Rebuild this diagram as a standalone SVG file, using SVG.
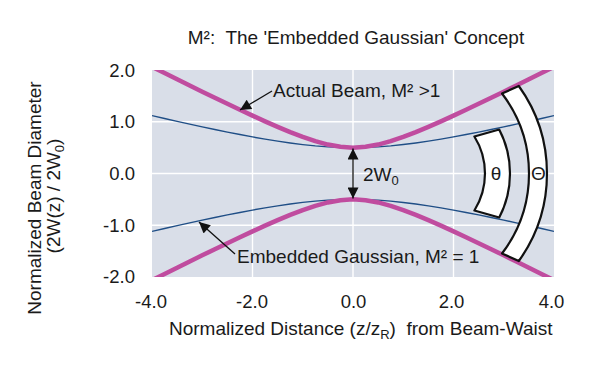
<svg xmlns="http://www.w3.org/2000/svg" width="609" height="371" viewBox="0 0 609 371">
  <style>
    text { font-family: "Liberation Sans", Arial, sans-serif; font-size: 19px; fill: #1a1a1a; white-space: pre; }
    .tick { font-size: 18.5px; }
    .grid { stroke: #ffffff; stroke-width: 1.4; fill: none; }
    .beam { stroke: #c04c9f; stroke-width: 4.5; fill: none; stroke-linejoin: round; }
    .gauss { stroke: #1f4e86; stroke-width: 1.4; fill: none; stroke-linejoin: round; }
    .band { fill: #ffffff; stroke: #111111; stroke-width: 2.2; stroke-linejoin: round; }
    .arrow { stroke: #111111; stroke-width: 1.3; fill: none; }
  </style>
  <defs>
    <clipPath id="plotClip">
      <rect x="152" y="70" width="402" height="207"/>
    </clipPath>
    <marker id="head" viewBox="0 0 10 10" refX="10" refY="5" markerUnits="userSpaceOnUse" markerWidth="13" markerHeight="11" orient="auto-start-reverse">
      <path d="M0,0 L10,5 L0,10 Z" fill="#111111"/>
    </marker>
  </defs>

  <rect width="609" height="371" fill="#ffffff"/>

  <g id="title">
    <text x="356" y="44" text-anchor="middle" xml:space="preserve">M²:  The 'Embedded Gaussian' Concept</text>
  </g>

  <g id="plot-area">
    <rect x="152" y="70" width="402" height="207" fill="#d9dee8"/>
    <g class="grid">
      <line x1="252.5" y1="70" x2="252.5" y2="277"/>
      <line x1="353" y1="70" x2="353" y2="277"/>
      <line x1="453.5" y1="70" x2="453.5" y2="277"/>
      <line x1="152" y1="121.75" x2="554" y2="121.75"/>
      <line x1="152" y1="173.5" x2="554" y2="173.5"/>
      <line x1="152" y1="225.25" x2="554" y2="225.25"/>
    </g>
  </g>

  <g id="curves" clip-path="url(#plotClip)">
    <path id="gauss-upper" class="gauss" d="M152,115.64 L164.56,118.52 177.13,121.35 189.69,124.13 202.25,126.85 214.81,129.51 227.38,132.08 239.94,134.55 252.5,136.91 265.06,139.12 277.63,141.16 290.19,142.99 302.75,144.57 315.31,145.87 327.88,146.83 340.44,147.42 353,147.63 365.56,147.42 378.13,146.83 390.69,145.87 403.25,144.57 415.81,142.99 428.38,141.16 440.94,139.12 453.5,136.91 466.06,134.55 478.63,132.08 491.19,129.51 503.75,126.85 516.31,124.13 528.88,121.35 541.44,118.52 554,115.64"/>
    <path id="gauss-lower" class="gauss" d="M152,231.36 L164.56,228.48 177.13,225.65 189.69,222.87 202.25,220.15 214.81,217.49 227.38,214.92 239.94,212.45 252.5,210.09 265.06,207.88 277.63,205.84 290.19,204.01 302.75,202.43 315.31,201.13 327.88,200.17 340.44,199.58 353,199.37 365.56,199.58 378.13,200.17 390.69,201.13 403.25,202.43 415.81,204.01 428.38,205.84 440.94,207.88 453.5,210.09 466.06,212.45 478.63,214.92 491.19,217.49 503.75,220.15 516.31,222.87 528.88,225.65 541.44,228.48 554,231.36"/>
    <path id="beam-upper" class="beam" d="M152,66.81 L164.56,73.08 177.13,79.31 189.69,85.51 202.25,91.68 214.81,97.79 227.38,103.83 239.94,109.79 252.5,115.64 265.06,121.35 277.63,126.85 290.19,132.08 302.75,136.91 315.31,141.16 327.88,144.57 340.44,146.83 353,147.63 365.56,146.83 378.13,144.57 390.69,141.16 403.25,136.91 415.81,132.08 428.38,126.85 440.94,121.35 453.5,115.64 466.06,109.79 478.63,103.83 491.19,97.79 503.75,91.68 516.31,85.51 528.88,79.31 541.44,73.08 554,66.81"/>
    <path id="beam-lower" class="beam" d="M152,280.19 L164.56,273.92 177.13,267.69 189.69,261.49 202.25,255.32 214.81,249.21 227.38,243.17 239.94,237.21 252.5,231.36 265.06,225.65 277.63,220.15 290.19,214.92 302.75,210.09 315.31,205.84 327.88,202.43 340.44,200.17 353,199.37 365.56,200.17 378.13,202.43 390.69,205.84 403.25,210.09 415.81,214.92 428.38,220.15 440.94,225.65 453.5,231.36 466.06,237.21 478.63,243.17 491.19,249.21 503.75,255.32 516.31,261.49 528.88,267.69 541.44,273.92 554,280.19"/>
  </g>

  <g id="theta-small">
    <path class="band" d="M474.4,136.5 A70,70 0 0 1 474.4,210.5 L499.2,217.5 A95,95 0 0 0 499.2,129.5 Z"/>
    <text x="496" y="180" text-anchor="middle">θ</text>
  </g>

  <g id="theta-large">
    <path class="band" d="M502,93.5 A132,132 0 0 1 502,253.5 L518.8,261 A150,150 0 0 0 518.8,86 Z"/>
    <text x="538.5" y="180" text-anchor="middle">Θ</text>
  </g>

  <g id="connectors">
    <line class="arrow" x1="272" y1="91" x2="240" y2="110" marker-end="url(#head)"/>
    <line class="arrow" x1="235" y1="254" x2="199" y2="222" marker-end="url(#head)"/>
    <line class="arrow" x1="353" y1="198.5" x2="353" y2="148.5" marker-start="url(#head)" marker-end="url(#head)"/>
  </g>

  <g id="label-actual">
    <text x="273" y="97">Actual Beam, M² &gt;1</text>
  </g>
  <g id="label-embedded">
    <text x="237" y="262.5">Embedded Gaussian, M² = 1</text>
  </g>
  <g id="label-waist">
    <text x="363" y="181">2W<tspan font-size="13" dy="4">0</tspan></text>
  </g>

  <g id="y-axis">
    <text class="tick" x="135" y="76.5" text-anchor="end">2.0</text>
    <text class="tick" x="135" y="128.2" text-anchor="end">1.0</text>
    <text class="tick" x="135" y="179.5" text-anchor="end">0.0</text>
    <text class="tick" x="135" y="232" text-anchor="end">-1.0</text>
    <text class="tick" x="135" y="283.2" text-anchor="end">-2.0</text>
    <text transform="translate(41,198) rotate(-90)" text-anchor="middle">Normalized Beam Diameter</text>
    <text transform="translate(60,196) rotate(-90)" text-anchor="middle">(2W(z) / 2W<tspan font-size="13" dy="4">0</tspan><tspan dy="-4">)</tspan></text>
  </g>

  <g id="x-axis">
    <text class="tick" x="151" y="308" text-anchor="middle">-4.0</text>
    <text class="tick" x="252" y="308" text-anchor="middle">-2.0</text>
    <text class="tick" x="353.5" y="308" text-anchor="middle">0.0</text>
    <text class="tick" x="451.5" y="308" text-anchor="middle">2.0</text>
    <text class="tick" x="551.5" y="308" text-anchor="middle">4.0</text>
    <text x="169" y="335" xml:space="preserve">Normalized Distance (z/z<tspan font-size="13" dy="4">R</tspan><tspan dy="-4">)  from Beam-Waist</tspan></text>
  </g>
</svg>
